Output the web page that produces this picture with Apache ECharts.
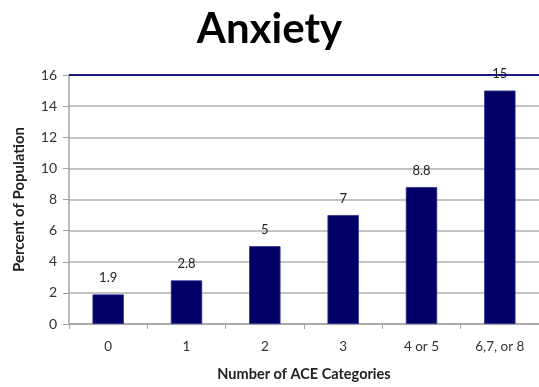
<!DOCTYPE html>
<html>
<head>
<meta charset="utf-8">
<script src="https://cdn.jsdelivr.net/npm/echarts@6/dist/echarts.min.js"></script>
<style>
  html, body { margin: 0; padding: 0; background: #fff; }
  #chart { width: 539px; height: 387px; }
</style>
</head>
<body>
<div id="chart"></div>
<script>
// ACE category groups and the share of the population reporting anxiety
const categories = ['0', '1', '2', '3', '4 or 5', '6,7, or 8'];
const anxietyPercent = [1.9, 2.8, 5, 7, 8.8, 15];
const yTicks = [0, 2, 4, 6, 8, 10, 12, 14, 16];

const FONT = 'Lato, "Open Sans", sans-serif';
const chart = echarts.init(document.getElementById('chart'), null, { renderer: 'canvas' });

chart.setOption({
  animation: false,
  backgroundColor: '#ffffff',
  title: {
    text: 'Anxiety',
    left: 'center',
    top: 3,
    textStyle: { fontFamily: FONT, fontSize: 42, fontWeight: 'bold', color: '#000' }
  },
  grid: { left: 69, top: 75, width: 472, height: 252, containLabel: false },
  xAxis: {
    type: 'category',
    data: categories,
    name: 'Number of ACE Categories',
    nameLocation: 'middle',
    nameGap: 43,
    nameTextStyle: { fontFamily: FONT, fontSize: 14.5, fontWeight: 'bold', color: '#222' },
    axisLine: { lineStyle: { color: '#a0a0a8', width: 1.5 } },
    axisTick: { show: true, alignWithLabel: false, length: 5, lineStyle: { color: '#a0a0a8' } },
    axisLabel: { fontFamily: FONT, fontSize: 13.5, color: '#333', margin: 16 }
  },
  yAxis: {
    type: 'value',
    min: yTicks[0],
    max: yTicks[yTicks.length - 1],
    interval: 2,
    name: 'Percent of Population',
    nameLocation: 'middle',
    nameGap: 42,
    nameTextStyle: { fontFamily: FONT, fontSize: 15, fontWeight: 'bold', color: '#222' },
    axisLine: { show: true, lineStyle: { color: '#a0a0a8', width: 1.5 } },
    axisTick: { show: true, length: 6, lineStyle: { color: '#a0a0a8' } },
    axisLabel: { fontFamily: FONT, fontSize: 14, color: '#333', margin: 12 },
    splitLine: { show: true, lineStyle: { color: '#c4c4c4', width: 2 } }
  },
  series: [
    {
      type: 'bar',
      data: anxietyPercent,
      barWidth: '40%',
      itemStyle: { color: '#000066', borderColor: '#2a2a90', borderWidth: 0.8 },
      label: {
        show: true,
        position: 'top',
        distance: 10,
        fontFamily: FONT,
        fontSize: 13,
        color: '#222'
      },
      markLine: {
        silent: true,
        symbol: 'none',
        label: { show: false },
        lineStyle: { color: '#1a1a80', width: 2, type: 'solid' },
        data: [{ yAxis: yTicks[yTicks.length - 1] }],
        z: 1
      }
    }
  ]
});
</script>
</body>
</html>
